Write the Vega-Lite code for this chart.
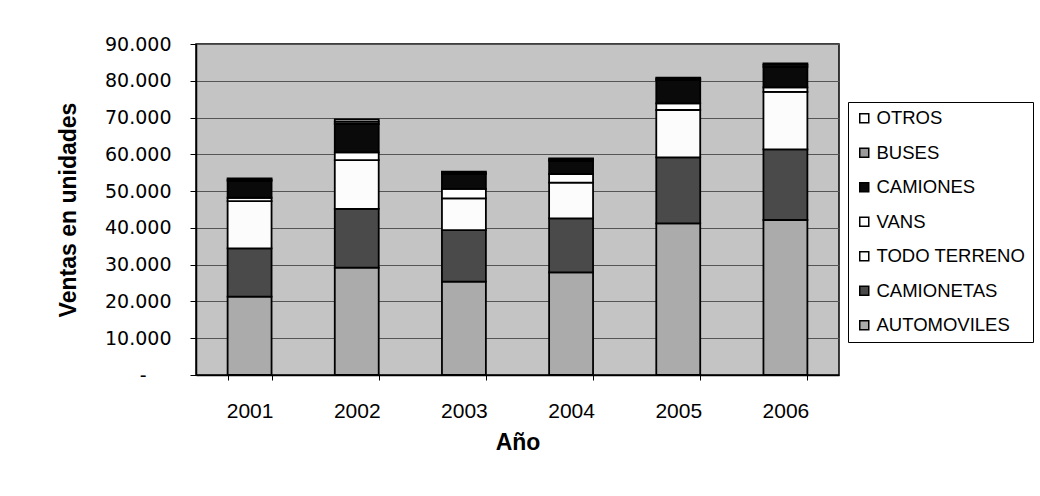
{
  "$schema": "https://vega.github.io/schema/vega-lite/v6.json",
  "width": 643,
  "height": 331,
  "autosize": {"type": "none"},
  "padding": {"left": 196, "top": 44, "right": 201, "bottom": 121},
  "background": "#ffffff",
  "config": {
    "font": "Liberation Sans",
    "view": {"fill": "#c4c4c4", "stroke": "#000000", "strokeWidth": 1.5}
  },
  "data": {
    "values": [
      {"anio": "2001", "tipo": "AUTOMOVILES", "orden": 1, "ventas": 21300},
      {"anio": "2001", "tipo": "CAMIONETAS", "orden": 2, "ventas": 13150},
      {"anio": "2001", "tipo": "TODO TERRENO", "orden": 3, "ventas": 12850},
      {"anio": "2001", "tipo": "VANS", "orden": 4, "ventas": 900},
      {"anio": "2001", "tipo": "CAMIONES", "orden": 5, "ventas": 4600},
      {"anio": "2001", "tipo": "BUSES", "orden": 6, "ventas": 350},
      {"anio": "2001", "tipo": "OTROS", "orden": 7, "ventas": 300},
      {"anio": "2002", "tipo": "AUTOMOVILES", "orden": 1, "ventas": 29200},
      {"anio": "2002", "tipo": "CAMIONETAS", "orden": 2, "ventas": 15950},
      {"anio": "2002", "tipo": "TODO TERRENO", "orden": 3, "ventas": 13300},
      {"anio": "2002", "tipo": "VANS", "orden": 4, "ventas": 2100},
      {"anio": "2002", "tipo": "CAMIONES", "orden": 5, "ventas": 7700},
      {"anio": "2002", "tipo": "BUSES", "orden": 6, "ventas": 650},
      {"anio": "2002", "tipo": "OTROS", "orden": 7, "ventas": 600},
      {"anio": "2003", "tipo": "AUTOMOVILES", "orden": 1, "ventas": 25400},
      {"anio": "2003", "tipo": "CAMIONETAS", "orden": 2, "ventas": 14000},
      {"anio": "2003", "tipo": "TODO TERRENO", "orden": 3, "ventas": 8650},
      {"anio": "2003", "tipo": "VANS", "orden": 4, "ventas": 2550},
      {"anio": "2003", "tipo": "CAMIONES", "orden": 5, "ventas": 4050},
      {"anio": "2003", "tipo": "BUSES", "orden": 6, "ventas": 350},
      {"anio": "2003", "tipo": "OTROS", "orden": 7, "ventas": 300},
      {"anio": "2004", "tipo": "AUTOMOVILES", "orden": 1, "ventas": 27900},
      {"anio": "2004", "tipo": "CAMIONETAS", "orden": 2, "ventas": 14700},
      {"anio": "2004", "tipo": "TODO TERRENO", "orden": 3, "ventas": 9700},
      {"anio": "2004", "tipo": "VANS", "orden": 4, "ventas": 2350},
      {"anio": "2004", "tipo": "CAMIONES", "orden": 5, "ventas": 3600},
      {"anio": "2004", "tipo": "BUSES", "orden": 6, "ventas": 350},
      {"anio": "2004", "tipo": "OTROS", "orden": 7, "ventas": 300},
      {"anio": "2005", "tipo": "AUTOMOVILES", "orden": 1, "ventas": 41250},
      {"anio": "2005", "tipo": "CAMIONETAS", "orden": 2, "ventas": 17950},
      {"anio": "2005", "tipo": "TODO TERRENO", "orden": 3, "ventas": 12850},
      {"anio": "2005", "tipo": "VANS", "orden": 4, "ventas": 1800},
      {"anio": "2005", "tipo": "CAMIONES", "orden": 5, "ventas": 6350},
      {"anio": "2005", "tipo": "BUSES", "orden": 6, "ventas": 350},
      {"anio": "2005", "tipo": "OTROS", "orden": 7, "ventas": 300},
      {"anio": "2006", "tipo": "AUTOMOVILES", "orden": 1, "ventas": 42150},
      {"anio": "2006", "tipo": "CAMIONETAS", "orden": 2, "ventas": 19200},
      {"anio": "2006", "tipo": "TODO TERRENO", "orden": 3, "ventas": 15650},
      {"anio": "2006", "tipo": "VANS", "orden": 4, "ventas": 1200},
      {"anio": "2006", "tipo": "CAMIONES", "orden": 5, "ventas": 5600},
      {"anio": "2006", "tipo": "BUSES", "orden": 6, "ventas": 500},
      {"anio": "2006", "tipo": "OTROS", "orden": 7, "ventas": 450}
    ]
  },
  "mark": {"type": "bar", "stroke": "#000000", "strokeWidth": 1.8},
  "encoding": {
    "x": {
      "field": "anio",
      "type": "nominal",
      "scale": {"paddingInner": 0.59, "paddingOuter": 0.295},
      "axis": {
        "title": "Año",
        "titleFontSize": 23,
        "titleFontWeight": "bold",
        "titleColor": "#000000",
        "titlePadding": 10,
        "labelAngle": 0,
        "labelFontSize": 21,
        "labelColor": "#000000",
        "labelPadding": 20,
        "tickBand": "extent",
        "tickSize": 5,
        "tickColor": "#000000",
        "domainColor": "#000000",
        "domainWidth": 1.5
      }
    },
    "y": {
      "field": "ventas",
      "type": "quantitative",
      "aggregate": "sum",
      "stack": "zero",
      "scale": {"domain": [0, 90000], "nice": false},
      "axis": {
        "title": "Ventas en unidades",
        "titleFontSize": 23,
        "titleFontWeight": "bold",
        "titleColor": "#000000",
        "titlePadding": 24,
        "values": [0, 10000, 20000, 30000, 40000, 50000, 60000, 70000, 80000, 90000],
        "labelExpr": "datum.value == 0 ? '-' : replace(format(datum.value, ','), /,/g, '.')",
        "labelFont": "DejaVu Sans",
        "labelFontSize": 19,
        "labelColor": "#000000",
        "labelPadding": {"condition": {"test": "datum.value == 0", "value": 44}, "value": 19},
        "tickSize": 6,
        "tickColor": "#000000",
        "domainColor": "#000000",
        "domainWidth": 1.5,
        "grid": true,
        "gridColor": "#555555",
        "gridWidth": 1
      }
    },
    "color": {
      "field": "tipo",
      "type": "nominal",
      "scale": {
        "domain": ["OTROS", "BUSES", "CAMIONES", "VANS", "TODO TERRENO", "CAMIONETAS", "AUTOMOVILES"],
        "range": ["#ffffff", "#9a9a9a", "#0a0a0a", "#ffffff", "#fcfcfc", "#4a4a4a", "#ababab"]
      },
      "legend": {
        "title": null,
        "orient": "none",
        "legendX": 652,
        "legendY": 58,
        "symbolType": "square",
        "symbolSize": 81,
        "symbolStrokeColor": "#000000",
        "symbolStrokeWidth": 1.5,
        "labelFontSize": 18.5,
        "labelColor": "#000000",
        "labelOffset": 3,
        "rowPadding": 15.5,
        "padding": 7,
        "strokeColor": "#000000",
        "fillColor": "#ffffff",
        "labelLimit": 220
      }
    },
    "order": {"field": "orden", "type": "quantitative", "sort": "ascending"}
  }
}
